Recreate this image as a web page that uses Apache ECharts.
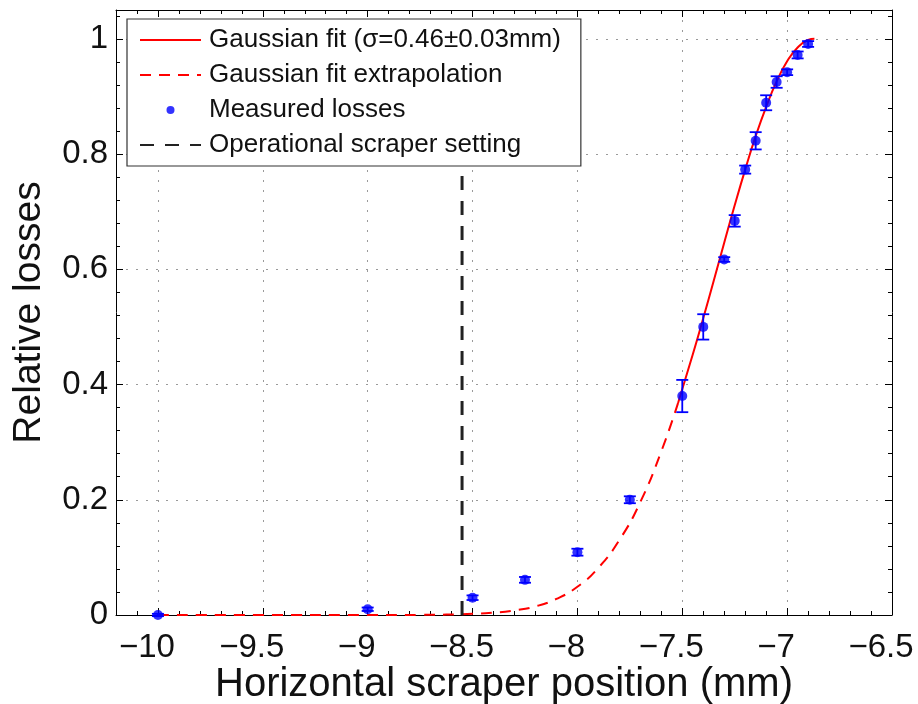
<!DOCTYPE html>
<html>
<head>
<meta charset="utf-8">
<script src="https://cdn.jsdelivr.net/npm/echarts@6/dist/echarts.min.js"></script>
<style>
html,body{margin:0;padding:0;background:#fff;}
#chart{width:918px;height:704px;}
</style>
</head>
<body>
<div id="chart"></div>
<script>
// Measured losses (x in mm, relative losses, error)
var measX   = [-10.0, -9.0, -8.5, -8.25, -8.0, -7.75, -7.5, -7.4, -7.3, -7.25, -7.2, -7.15, -7.1, -7.05, -7.0, -6.95, -6.9];
var measY   = [0.0, 0.01, 0.03, 0.061, 0.109, 0.2, 0.38, 0.50, 0.617, 0.684, 0.773, 0.823, 0.889, 0.925, 0.942, 0.972, 0.991];
var measErr = [0.002, 0.003, 0.004, 0.005, 0.006, 0.006, 0.028, 0.022, 0.004, 0.01, 0.007, 0.015, 0.013, 0.01, 0.005, 0.006, 0.005];

// Gaussian fit (solid part)
var fitX = [-7.52, -7.45, -7.40, -7.35, -7.30, -7.25, -7.20, -7.15, -7.10, -7.05, -7.00, -6.95, -6.90, -6.87];
var fitY = [0.368, 0.452, 0.515, 0.580, 0.646, 0.711, 0.773, 0.831, 0.882, 0.926, 0.961, 0.985, 0.998, 1.0];

// Gaussian fit extrapolation (dashed part)
var extX = [-10.0, -9.5, -9.0, -8.75, -8.5, -8.4, -8.3, -8.2, -8.1, -8.0, -7.9, -7.8, -7.7, -7.6, -7.52];
var extY = [0, 0, 0, 0.0002, 0.002, 0.004, 0.008, 0.015, 0.028, 0.049, 0.082, 0.130, 0.196, 0.284, 0.368];

// Operational scraper setting
var scraperX = [-8.55, -8.55];
var scraperY = [0, 0.771];

var seriesNames = ['Gaussian fit (\u03c3=0.46\u00b10.03mm)', 'Gaussian fit extrapolation', 'Measured losses', 'Operational scraper setting'];
var xTitle = 'Horizontal scraper position (mm)';
var yTitle = 'Relative losses';

function zip(a, b) { return a.map(function (v, i) { return [v, b[i]]; }); }
var FONT = '"Liberation Sans", Arial, Helvetica, sans-serif';
function minusFmt(v) { var s = String(Math.round(v * 100) / 100); return s.replace('-', '\u2212'); }

var chart = echarts.init(document.getElementById('chart'), null, {renderer: 'canvas'});

var baseMajorX = {
  type: 'value', min: -10.2, max: -6.5, splitNumber: 7,
  axisLine: {show: true, onZero: false, lineStyle: {color: '#000', width: 1}},
  axisTick: {show: true, inside: true, length: 7, lineStyle: {color: '#000'}},
  axisLabel: {show: false}, splitLine: {show: false}
};
var baseMinorX = {
  type: 'value', min: -10.2, max: -6.5, interval: 0.1,
  axisLine: {show: false, onZero: false},
  axisTick: {show: true, inside: true, length: 4, lineStyle: {color: '#000'}},
  axisLabel: {show: false}, splitLine: {show: false}
};
var baseMajorY = {
  type: 'value', min: 0, max: 1.05, interval: 0.2,
  axisLine: {show: true, onZero: false, lineStyle: {color: '#000', width: 1}},
  axisTick: {show: true, inside: true, length: 7, lineStyle: {color: '#000'}},
  axisLabel: {show: false}, splitLine: {show: false}
};
var baseMinorY = {
  type: 'value', min: 0, max: 1.05, interval: 0.04,
  axisLine: {show: false, onZero: false},
  axisTick: {show: true, inside: true, length: 4, lineStyle: {color: '#000'}},
  axisLabel: {show: false}, splitLine: {show: false}
};
function ext(base, extra) { return Object.assign({}, JSON.parse(JSON.stringify(base)), extra); }

var hiddenSym = {opacity: 0, color: 'rgba(0,0,0,0)', borderWidth: 0};

var option = {
  backgroundColor: '#fff',
  animation: false,
  textStyle: {fontFamily: FONT},
  grid: {left: 116, right: 26, top: 10, bottom: 89, containLabel: false, outerBoundsMode: 'none'},
  xAxis: [
    ext(baseMajorX, {
      position: 'bottom',
      name: xTitle, nameLocation: 'middle', nameGap: 50, nameMoveOverlap: false,
      nameTextStyle: {fontSize: 40, color: '#111', fontFamily: FONT},
      axisLabel: {show: true, fontSize: 33, color: '#111', fontFamily: FONT, margin: 16,
        showMinLabel: false, padding: [0, 22, 0, 0],
        formatter: function (v) { return (v < -10.1) ? '' : minusFmt(v); }},
      splitLine: {show: true, lineStyle: {color: '#9a9a9a', width: 1, type: [2, 8]}}
    }),
    ext(baseMajorX, {position: 'top'}),
    ext(baseMinorX, {position: 'bottom'}),
    ext(baseMinorX, {position: 'top'})
  ],
  yAxis: [
    ext(baseMajorY, {
      position: 'left',
      name: yTitle, nameLocation: 'middle', nameGap: 67, nameRotate: 90, nameMoveOverlap: false,
      nameTextStyle: {fontSize: 39, color: '#111', fontFamily: FONT},
      axisLabel: {show: true, fontSize: 33, color: '#111', fontFamily: FONT, margin: 8,
        showMaxLabel: false,
        formatter: function (v) { return (v > 1.01) ? '' : minusFmt(v); }},
      splitLine: {show: true, lineStyle: {color: '#9a9a9a', width: 1, type: [2, 8]}}
    }),
    ext(baseMajorY, {position: 'right'}),
    ext(baseMinorY, {position: 'left'}),
    ext(baseMinorY, {position: 'right'})
  ],
  legend: {
    orient: 'vertical', left: 127, top: 19,
    backgroundColor: '#fff', borderColor: '#333', borderWidth: 1.2,
    padding: [8, 20, 8, 12], itemGap: 9, itemWidth: 61, itemHeight: 8,
    textStyle: {fontSize: 26, color: '#111', fontFamily: FONT, lineHeight: 25, padding: [0, 0, 0, 3]},
    data: [
      {name: seriesNames[0], itemStyle: hiddenSym},
      {name: seriesNames[1], itemStyle: hiddenSym},
      {name: seriesNames[2], icon: 'circle'},
      {name: seriesNames[3], itemStyle: hiddenSym}
    ]
  },
  series: [
    {
      name: seriesNames[1], type: 'line', data: zip(extX, extY), color: '#ff0000',
      xAxisIndex: 0, yAxisIndex: 0, symbol: 'none', showSymbol: false, smooth: true,
      lineStyle: {color: '#ff0000', width: 2, type: [11, 8]}, z: 2
    },
    {
      name: seriesNames[0], type: 'line', data: zip(fitX, fitY), color: '#ff0000',
      xAxisIndex: 0, yAxisIndex: 0, symbol: 'none', showSymbol: false, smooth: true,
      lineStyle: {color: '#ff0000', width: 2, type: 'solid'}, z: 2
    },
    {
      name: seriesNames[3], type: 'line', data: zip(scraperX, scraperY), color: '#222',
      xAxisIndex: 0, yAxisIndex: 0, symbol: 'none', showSymbol: false,
      lineStyle: {color: '#222', width: 3, type: [14, 11]}, z: 3
    },
    {
      name: 'errorbars', type: 'custom', xAxisIndex: 0, yAxisIndex: 0, silent: true, z: 4,
      data: measX.map(function (x, i) { return [x, measY[i] - measErr[i], measY[i] + measErr[i]]; }),
      renderItem: function (params, api) {
        var lo = api.coord([api.value(0), api.value(1)]);
        var hi = api.coord([api.value(0), api.value(2)]);
        var hw = 6;
        var st = {stroke: '#0000ff', lineWidth: 1.8};
        return {type: 'group', children: [
          {type: 'line', shape: {x1: lo[0], y1: lo[1], x2: hi[0], y2: hi[1]}, style: st},
          {type: 'line', shape: {x1: lo[0] - hw, y1: lo[1], x2: lo[0] + hw, y2: lo[1]}, style: st},
          {type: 'line', shape: {x1: hi[0] - hw, y1: hi[1], x2: hi[0] + hw, y2: hi[1]}, style: st}
        ]};
      }
    },
    {
      name: seriesNames[2], type: 'scatter', data: zip(measX, measY), color: '#0000ff',
      xAxisIndex: 0, yAxisIndex: 0, symbol: 'circle', symbolSize: 10,
      itemStyle: {color: '#0000ff'}, z: 5
    }
  ]
};
chart.setOption(option);
</script>
</body>
</html>
